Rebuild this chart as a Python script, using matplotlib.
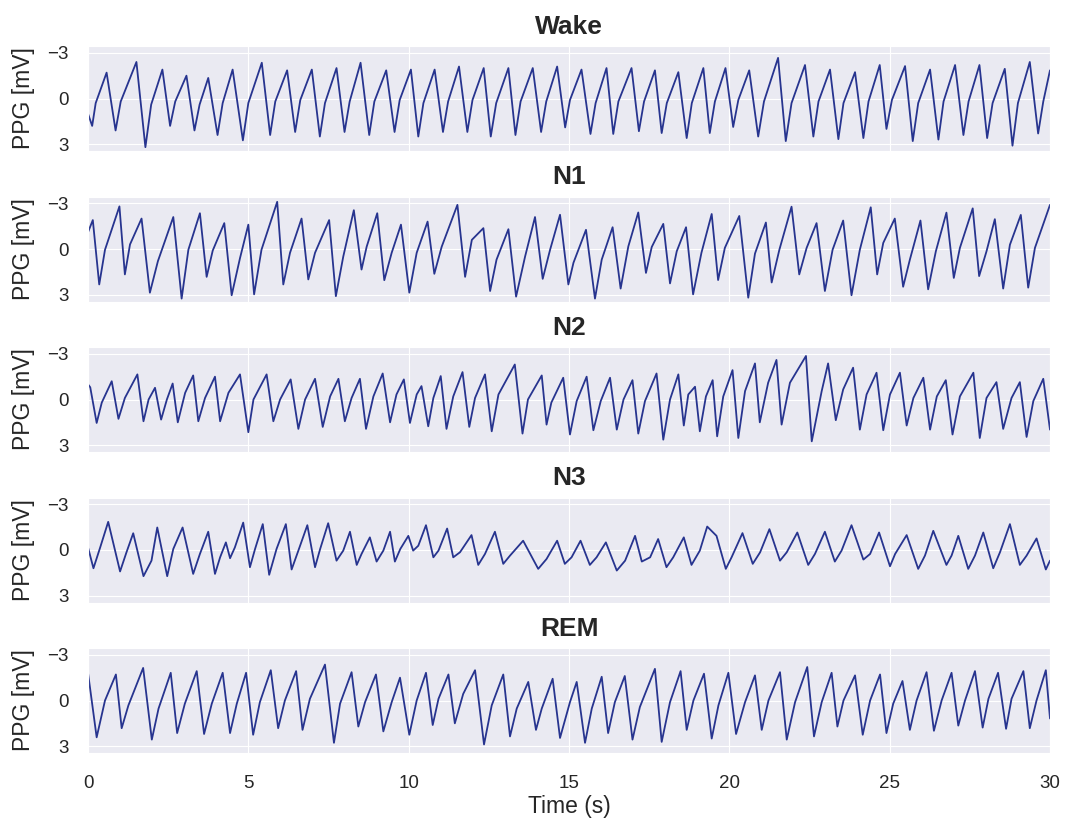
import matplotlib
matplotlib.use("Agg")
import matplotlib.pyplot as plt
import seaborn as sns

sns.set_style("darkgrid")
plt.rcParams['font.family'] = ['Liberation Sans', 'DejaVu Sans']

# ---- data: PPG vertices (time [s], value [mV]) ----
titles = ["Wake", "N1", "N2", "N3", "REM"]
x_ticks = [0, 5, 10, 15, 20, 25, 30]
y_ticks = [-3, 0, 3]

wake_pts = [(0.00, 1.0),
    (0.13, 1.8), (0.24, 0.3), (0.58, -1.7), (0.86, 2.1), (1.02, 0.2), (1.51, -2.4),
    (1.79, 3.2), (1.97, 0.4), (2.32, -1.9), (2.56, 1.8), (2.72, 0.2), (3.07, -1.5),
    (3.32, 2.1), (3.48, 0.4), (3.75, -1.35), (4.04, 2.4), (4.20, 0.3), (4.51, -1.9),
    (4.83, 2.75), (5.00, 0.3), (5.42, -2.35), (5.68, 2.4), (5.84, 0.2), (6.21, -1.85),
    (6.46, 2.2), (6.62, 0.1), (6.98, -1.9), (7.23, 2.5), (7.39, 0.3), (7.75, -2.0),
    (8.00, 2.2), (8.16, 0.2), (8.50, -2.35), (8.77, 2.4), (8.93, 0.2), (9.30, -1.85),
    (9.56, 2.2), (9.72, 0.1), (10.07, -1.9), (10.30, 2.5), (10.46, 0.3), (10.81, -1.9),
    (11.07, 2.2), (11.23, 0.2), (11.57, -2.1), (11.83, 2.2), (11.99, 0.1), (12.34, -2.0),
    (12.56, 2.5), (12.73, 0.3), (13.11, -2.0), (13.33, 2.4), (13.49, 0.2), (13.87, -2.0),
    (14.13, 2.2), (14.29, 0.2), (14.63, -2.1), (14.88, 1.9), (15.03, 0.1), (15.39, -1.9),
    (15.67, 2.33), (15.83, 0.3), (16.17, -2.0), (16.38, 2.33), (16.54, 0.2), (16.95, -2.0),
    (17.18, 2.15), (17.34, 0.2), (17.68, -1.85), (17.89, 2.27), (18.05, 0.3), (18.41, -1.73),
    (18.67, 2.6), (18.83, 0.3), (19.19, -2.0), (19.39, 2.27), (19.55, 0.2), (19.88, -2.0),
    (20.12, 1.87), (20.28, 0.1), (20.62, -1.85), (20.90, 2.5), (21.08, 0.2), (21.52, -2.67),
    (21.76, 2.8), (21.94, 0.3), (22.36, -2.2), (22.62, 2.5), (22.78, 0.2), (23.14, -1.9),
    (23.40, 2.67), (23.56, 0.3), (23.92, -1.73), (24.18, 2.6), (24.34, 0.2), (24.69, -2.2),
    (24.90, 2.0), (25.07, 0.1), (25.48, -2.13), (25.72, 2.8), (25.89, 0.3), (26.26, -1.9),
    (26.52, 2.7), (26.68, 0.2), (27.04, -2.2), (27.30, 2.4), (27.46, 0.2), (27.80, -2.2),
    (28.04, 2.6), (28.21, 0.3), (28.59, -1.95), (28.83, 3.1), (29.00, 0.3), (29.37, -2.4),
    (29.63, 2.3), (29.79, 0.2), (30.00, -1.85)]

n1_pts = [(0.00, -1.1), (0.15, -1.9),
    (0.35, 2.33), (0.53, 0.05), (0.98, -2.8), (1.15, 1.67), (1.31, -0.3), (1.67, -2.0),
    (1.93, 2.87), (2.18, 0.8), (2.66, -2.1), (2.92, 3.26), (3.13, 0.05), (3.49, -2.35),
    (3.70, 1.83), (3.89, 0.1), (4.25, -1.7), (4.48, 3.04), (4.74, 0.6), (5.00, -1.6),
    (5.18, 2.98), (5.41, 0.05), (5.90, -3.1), (6.09, 2.33), (6.30, 0.25), (6.66, -2.0),
    (6.87, 2.0), (7.08, 0.25), (7.52, -1.9), (7.73, 3.1), (7.96, 0.5), (8.29, -2.55),
    (8.53, 1.35), (8.69, -0.15), (9.02, -2.35), (9.24, 2.05), (9.47, 0.25), (9.76, -1.6),
    (10.02, 2.87), (10.25, 0.25), (10.59, -1.8), (10.80, 1.63), (11.03, -0.15), (11.52, -2.9),
    (11.76, 1.83), (11.97, -0.6), (12.33, -1.37), (12.54, 2.76), (12.74, 0.7), (13.11, -1.3),
    (13.35, 3.13), (13.63, 0.5), (13.94, -2.1), (14.18, 1.96), (14.41, 0.05), (14.72, -2.25),
    (14.98, 2.33), (15.14, 0.9), (15.53, -1.26), (15.81, 3.26), (16.02, 0.7), (16.36, -1.43),
    (16.61, 2.6), (16.85, -0.17), (17.16, -2.4), (17.40, 1.57), (17.58, -0.13), (17.94, -1.65),
    (18.15, 2.26), (18.36, 0.15), (18.65, -1.43), (18.87, 2.98), (19.13, 0.25), (19.45, -2.3),
    (19.65, 2.04), (19.86, -0.07), (20.31, -2.17), (20.59, 3.2), (20.80, 0.3), (21.14, -1.74),
    (21.32, 2.2), (21.56, 0.05), (21.94, -2.78), (22.18, 1.67), (22.41, -0.07), (22.72, -1.7),
    (22.98, 2.76), (23.22, 0.05), (23.55, -1.87), (23.81, 3.04), (24.07, 0.05), (24.41, -2.74),
    (24.61, 1.67), (24.80, -0.4), (25.16, -2.0), (25.42, 2.48), (25.63, 0.7), (25.96, -1.87),
    (26.20, 2.65), (26.44, 0.15), (26.77, -2.39), (27.00, 1.9), (27.19, -0.07), (27.59, -2.67),
    (27.79, 1.78), (28.02, 0.15), (28.28, -1.96), (28.54, 2.6), (28.75, -0.28), (29.09, -2.24),
    (29.32, 2.54), (29.53, -0.07), (30.00, -2.9)]

n2_pts = [(0.00, -1.0), (0.07, -0.8),
    (0.27, 1.54), (0.43, 0.2), (0.74, -1.2), (0.95, 1.27), (1.15, -0.1), (1.54, -1.65),
    (1.73, 1.43), (1.89, 0.0), (2.09, -0.77), (2.28, 1.32), (2.46, 0.0), (2.64, -1.05),
    (2.80, 1.5), (3.03, -0.44), (3.28, -1.58), (3.44, 1.43), (3.65, -0.1), (3.96, -1.5),
    (4.12, 1.43), (4.38, -0.44), (4.74, -1.65), (5.00, 2.15), (5.16, 0.0), (5.57, -1.65),
    (5.78, 1.43), (5.99, 0.0), (6.32, -1.32), (6.56, 1.93), (6.77, 0.0), (7.08, -1.36),
    (7.32, 1.8), (7.55, -0.2), (7.81, -1.36), (8.01, 1.43), (8.22, -0.1), (8.48, -1.36),
    (8.67, 1.93), (8.90, -0.2), (9.19, -1.71), (9.42, 1.5), (9.62, -0.33), (9.85, -1.32),
    (10.04, 1.54), (10.25, -0.33), (10.40, -0.88), (10.61, 1.76), (10.77, -0.1), (11.00, -1.54),
    (11.18, 1.93), (11.39, -0.2), (11.68, -1.8), (11.89, 1.8), (12.07, -0.1), (12.38, -1.65),
    (12.59, 2.09), (12.80, -0.33), (13.31, -2.3), (13.55, 2.24), (13.72, 0.0), (14.15, -1.58),
    (14.30, 1.65), (14.45, 0.2), (14.82, -1.43), (15.03, 2.3), (15.24, 0.1), (15.55, -1.5),
    (15.76, 2.02), (15.99, 0.1), (16.28, -1.43), (16.49, 1.98), (16.70, 0.0), (16.98, -1.27),
    (17.16, 2.24), (17.37, 0.1), (17.73, -1.71), (17.94, 2.64), (18.15, 0.0), (18.41, -1.65),
    (18.58, 1.71), (18.72, -0.33), (18.93, -0.84), (19.08, 2.09), (19.27, -0.2), (19.48, -1.27),
    (19.62, 2.42), (19.81, -0.2), (20.10, -1.93), (20.28, 2.53), (20.49, -0.55), (20.80, -2.37),
    (20.95, 1.5), (21.21, -1.1), (21.47, -2.6), (21.63, 1.65), (21.89, -1.1), (22.39, -2.86),
    (22.57, 2.75), (22.88, -0.55), (23.08, -2.37), (23.32, 1.36), (23.55, -0.66), (23.86, -2.09),
    (24.07, 1.98), (24.28, -0.33), (24.59, -1.76), (24.80, 2.02), (25.01, -0.33), (25.32, -1.76),
    (25.53, 1.71), (25.74, -0.1), (26.05, -1.43), (26.26, 1.98), (26.47, -0.2), (26.75, -1.27),
    (26.96, 2.3), (27.19, -0.2), (27.61, -1.76), (27.81, 2.53), (28.02, -0.1), (28.33, -1.14),
    (28.54, 1.93), (28.80, -0.1), (29.06, -1.14), (29.27, 2.46), (29.48, 0.1), (29.79, -1.36),
    (30.00, 1.98)]

n3_pts = [(0.00, -0.17),
    (0.17, 1.2), (0.38, -0.17), (0.63, -1.85), (1.00, 1.41), (1.20, 0.15), (1.41, -1.1),
    (1.73, 1.72), (1.98, 0.7), (2.16, -1.48), (2.47, 1.72), (2.66, -0.07), (2.95, -1.48),
    (3.28, 1.57), (3.49, 0.26), (3.75, -1.2), (3.96, 1.57), (4.12, 0.48), (4.30, -0.5),
    (4.43, 0.54), (4.58, -0.17), (4.84, -1.8), (5.05, 1.13), (5.21, -0.07), (5.45, -1.7),
    (5.65, 1.63), (5.88, -0.07), (6.17, -1.7), (6.35, 1.28), (6.56, 0.04), (6.84, -1.63),
    (7.08, 1.13), (7.24, -0.07), (7.49, -1.76), (7.75, 0.7), (7.96, 0.04), (8.17, -1.2),
    (8.38, 0.98), (8.53, 0.26), (8.79, -0.83), (9.00, 0.76), (9.21, 0.04), (9.42, -1.2),
    (9.57, 0.76), (9.74, -0.07), (9.99, -0.93), (10.14, 0.04), (10.30, -0.28), (10.54, -1.63),
    (10.77, 0.48), (10.93, 0.04), (11.20, -1.41), (11.39, 0.48), (11.60, 0.15), (11.96, -0.98),
    (12.17, 0.98), (12.38, 0.26), (12.69, -1.2), (12.95, 0.91), (13.16, 0.37), (13.57, -0.61),
    (14.04, 1.24), (14.30, 0.59), (14.63, -0.61), (14.87, 0.91), (15.08, 0.48), (15.36, -0.61),
    (15.65, 0.98), (15.86, 0.48), (16.15, -0.5), (16.49, 1.35), (16.75, 0.7), (17.06, -0.93),
    (17.27, 0.76), (17.53, 0.48), (17.78, -0.72), (18.04, 1.13), (18.25, 0.48), (18.58, -0.83),
    (18.82, 0.98), (19.08, 0.04), (19.31, -1.54), (19.60, -0.93),
    (19.89, 1.24), (20.07, 0.48), (20.41, -1.11), (20.73, 0.91), (20.96, 0.15), (21.25, -1.37),
    (21.58, 0.7), (21.79, 0.15), (22.12, -1.15), (22.46, 0.98), (22.67, 0.26), (22.98, -1.2),
    (23.29, 0.76), (23.50, 0.04), (23.81, -1.63), (24.18, 0.63), (24.39, 0.26), (24.67, -1.15),
    (25.01, 1.07), (25.17, 0.26), (25.53, -0.98), (25.89, 1.24), (26.10, 0.37), (26.36, -1.26),
    (26.77, 0.98), (26.93, 0.37), (27.14, -0.93), (27.45, 1.24), (27.66, 0.37), (27.92, -1.15),
    (28.23, 1.2), (28.44, 0.15), (28.75, -1.7), (29.06, 0.98), (29.27, 0.37), (29.58, -0.76),
    (29.87, 1.28), (30.00, 0.7)]

rem_pts = [(0.00, -1.82),
    (0.27, 2.42), (0.53, 0.0), (0.87, -1.71), (1.05, 1.82), (1.26, 0.32), (1.72, -2.14),
    (1.99, 2.57), (2.20, 0.53), (2.58, -1.82), (2.78, 2.14), (3.02, 0.21), (3.39, -1.93),
    (3.62, 2.2), (3.86, 0.21), (4.20, -1.82), (4.43, 2.14), (4.64, 0.21), (4.93, -1.82),
    (5.15, 2.25), (5.36, 0.11), (5.70, -1.99), (5.93, 1.82), (6.14, 0.0), (6.49, -1.93),
    (6.69, 1.93), (6.92, -0.11), (7.39, -2.36), (7.67, 2.78), (7.86, 0.21), (8.22, -1.86),
    (8.43, 1.71), (8.64, 0.11), (8.98, -1.71), (9.21, 2.03), (9.47, 0.11), (9.73, -1.5),
    (10.02, 2.25), (10.25, 0.0), (10.54, -1.82), (10.75, 1.61), (10.93, -0.11), (11.24, -1.71),
    (11.44, 1.5), (11.70, -0.43), (12.07, -1.99), (12.35, 2.89), (12.59, 0.32), (12.95, -1.71),
    (13.16, 2.36), (13.37, 0.53), (13.73, -1.22), (13.97, 1.93), (14.15, 0.53), (14.49, -1.43),
    (14.72, 2.46), (15.03, 0.11), (15.24, -1.22), (15.50, 2.78), (15.71, 0.53), (16.02, -1.56),
    (16.22, 2.14), (16.43, 0.11), (16.74, -1.61), (16.98, 2.57), (17.21, 0.43), (17.68, -2.08),
    (17.89, 2.72), (18.15, 0.11), (18.48, -1.93), (18.67, 1.93), (18.88, 0.0), (19.21, -1.76),
    (19.45, 2.5), (19.66, 0.32), (19.97, -1.82), (20.21, 2.2), (20.49, 0.11), (20.80, -1.65),
    (21.01, 1.93), (21.22, 0.0), (21.58, -1.86), (21.79, 2.57), (22.05, 0.11), (22.43, -2.2),
    (22.64, 2.36), (22.88, 0.11), (23.19, -1.82), (23.37, 1.71), (23.56, 0.0), (23.92, -1.65),
    (24.16, 2.25), (24.39, 0.0), (24.70, -1.71), (24.90, 2.14), (25.11, 0.21), (25.40, -1.28),
    (25.63, 1.93), (25.84, 0.0), (26.15, -1.86), (26.38, 1.99), (26.62, 0.0), (26.93, -1.82),
    (27.14, 1.65), (27.35, 0.0), (27.66, -1.93), (27.90, 1.78), (28.08, -0.11), (28.38, -1.82),
    (28.63, 1.86), (28.80, -0.11), (29.17, -1.93), (29.37, 1.82), (29.58, 0.0), (29.87, -1.99),
    (30.00, 1.18)]

panels = [wake_pts, n1_pts, n2_pts, n3_pts, rem_pts]

# ---- figure ----
W, H = 1065, 825
fig = plt.figure(figsize=(W / 100, H / 100), dpi=100)
left_px, width_px = 88, 962
height_px = 105
line_color = "#27348f"

for i, (title, pts) in enumerate(zip(titles, panels)):
    top_px = 46 + 150.5 * i
    ax = fig.add_axes([left_px / W, 1 - (top_px + height_px) / H,
                       width_px / W, height_px / H])
    t = [p[0] for p in pts]
    v = [p[1] for p in pts]
    ax.plot(t, v, color=line_color, lw=1.3, solid_joinstyle='round')
    ax.set_xlim(0, 30)
    ax.set_ylim(3.45, -3.45)
    ax.set_yticks(y_ticks)
    ax.set_xticks(x_ticks)
    ax.tick_params(axis='y', labelsize=13.5, pad=14, length=0)
    ax.tick_params(axis='x', labelsize=13.5, pad=16, length=0)
    ax.set_title(title, fontsize=19, fontweight='bold', pad=9)
    ax.set_ylabel("PPG [mV]", fontsize=16.5)
    ax.yaxis.set_label_coords(-0.055, 0.5)
    if i < len(titles) - 1:
        ax.tick_params(axis='x', labelbottom=False)
    else:
        ax.set_xlabel("Time (s)", fontsize=16.5, labelpad=2)

fig.savefig("out.png", dpi=100)
